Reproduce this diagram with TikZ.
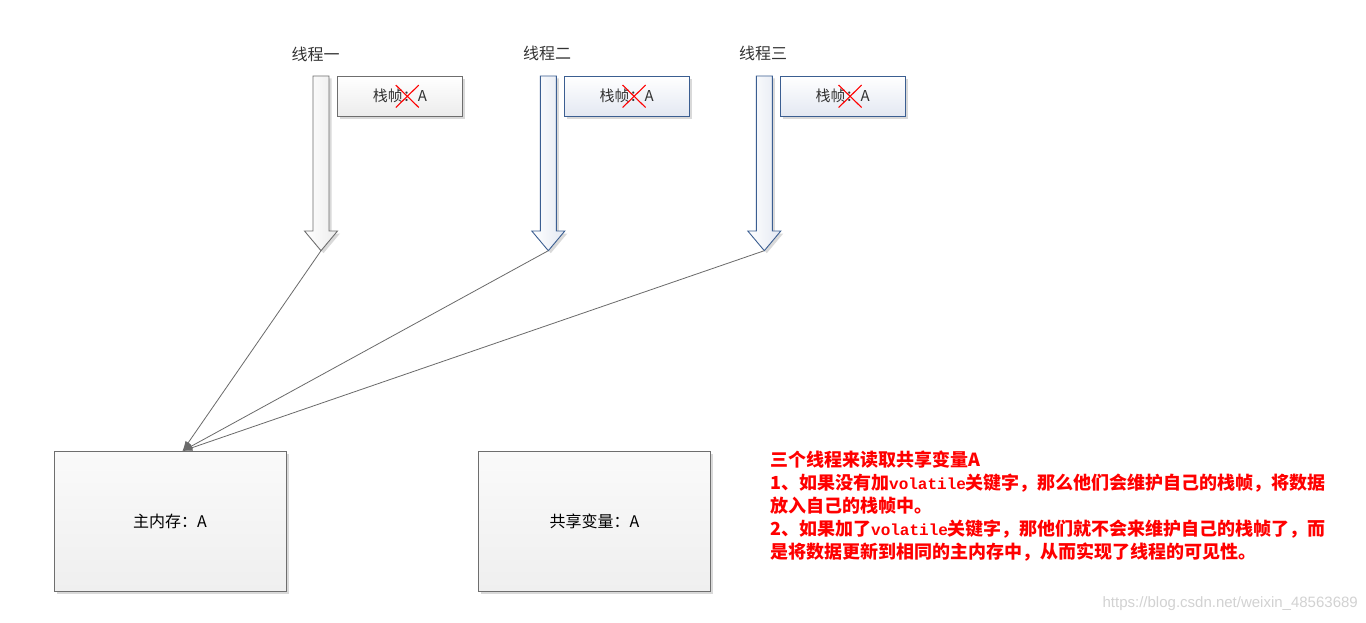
\documentclass[tikz,border=0pt]{standalone}
\usepackage{fontspec}
\newfontfamily\cjk{Noto Sans CJK SC}
\newfontfamily\monofam{Liberation Mono}
\newfontfamily\wmfam{Liberation Sans}
\usetikzlibrary{arrows.meta,shadows,calc}
\definecolor{edgegray}{HTML}{6E6E6E}
\definecolor{edgeblue}{HTML}{3B5E91}
\definecolor{fillblue}{HTML}{E3E8F2}
\definecolor{fillgray}{HTML}{ECECEC}
\definecolor{boxbottom}{HTML}{EFEFEF}
\definecolor{boxtop}{HTML}{FAFAFA}
\definecolor{txtred}{HTML}{FF0000}
\definecolor{linegray}{HTML}{6A6A6A}
\definecolor{labgray}{HTML}{333333}
\definecolor{wmgray}{HTML}{D2D2D2}
\newcommand\blockarrow[3]{%
  \draw[#2] (#1-8,76) -- (#1+8,76) -- (#1+8,231) -- (#1+16.5,231) -- (#1,250.7) -- (#1-16.5,231) -- (#1-8,231) -- cycle;
  \coordinate (#3) at (#1,250.7);}
\begin{document}
\begin{tikzpicture}[x=1pt,y=-1pt,
  softshadow/.style={drop shadow={shadow xshift=2.5pt,shadow yshift=-2.5pt,opacity=0.15,fill=black}},
  stackgray/.style={draw=edgegray,line width=0.9pt,top color=white,bottom color=fillgray,
     minimum width=125.4pt,minimum height=40pt,inner sep=0pt,softshadow,
     font=\cjk\fontsize{15}{18}\selectfont,text=labgray},
  stackblue/.style={stackgray,draw=edgeblue,bottom color=fillblue},
  bigbox/.style={draw=edgegray,line width=0.9pt,top color=boxtop,bottom color=boxbottom,
     minimum width=232pt,minimum height=140pt,inner sep=0pt,softshadow,
     font=\cjk\fontsize{16}{19}\selectfont,text=black},
  arrgray/.style={draw=edgegray,line width=0.9pt,left color=white,right color=fillgray,softshadow},
  arrblue/.style={draw=edgeblue,line width=0.9pt,left color=white,right color=fillblue,softshadow},
  threadlab/.style={font=\cjk\fontsize{16}{19}\selectfont,text=labgray,inner sep=0pt},
  cross/.style={draw=txtred,line width=1.1pt},
  conn/.style={draw=linegray,line width=0.8pt,-{Latex[length=10pt,width=6.5pt]}}]
\fill[white] (0,0) rectangle (1366,623);
\useasboundingbox (0,0) rectangle (1366,623);

% thread labels
\node[threadlab] (l1) at (315.5,54) {线程一};
\node[threadlab] (l2) at (547,53) {线程二};
\node[threadlab] (l3) at (763,53) {线程三};

% block arrows
\blockarrow{321}{arrgray}{t1}
\blockarrow{548.3}{arrblue}{t2}
\blockarrow{764.3}{arrblue}{t3}

% stack frame boxes
\node[stackgray] (s1) at (400,96.3) {栈帧：A};
\node[stackblue] (s2) at (626.8,96.3) {栈帧：A};
\node[stackblue] (s3) at (842.8,96.3) {栈帧：A};
\foreach \s in {s1,s2,s3}{
  \draw[cross] ($(\s.center)+(-4.2,-11.2)$) -- ($(\s.center)+(18.8,11.2)$);
  \draw[cross] ($(\s.center)+(-4.2,11.2)$) -- ($(\s.center)+(18.8,-11.2)$);
}

% main memory and shared variable
\node[bigbox] (mem) at (170,521) {主内存：A};
\node[bigbox] (shared) at (594.5,521) {共享变量：A};
\coordinate (hit) at (182.5,451);

% connectors
\draw[conn] (t1) -- (hit);
\draw[conn] (t2) -- (hit);
\draw[conn] (t3) -- (hit);

% note
\node[anchor=north west,inner sep=0pt,align=left,text=txtred,
  font=\cjk\bfseries\fontsize{18}{23}\selectfont] (note) at (770,451)
  {三个线程来读取共享变量A\\
   1、如果没有加{\monofam\fontsize{16}{23}\selectfont volatile}关键字，那么他们会维护自己的栈帧，将数据\\
   放入自己的栈帧中。\\
   2、如果加了{\monofam\fontsize{16}{23}\selectfont volatile}关键字，那他们就不会来维护自己的栈帧了，而\\
   是将数据更新到相同的主内存中，从而实现了线程的可见性。};

% watermark
\node[anchor=east,inner sep=0pt,text=wmgray,font=\wmfam\fontsize{15}{18}\selectfont] (wm) at (1358,604)
  {https://blog.csdn.net/weixin\_48563689};
\end{tikzpicture}
\end{document}
